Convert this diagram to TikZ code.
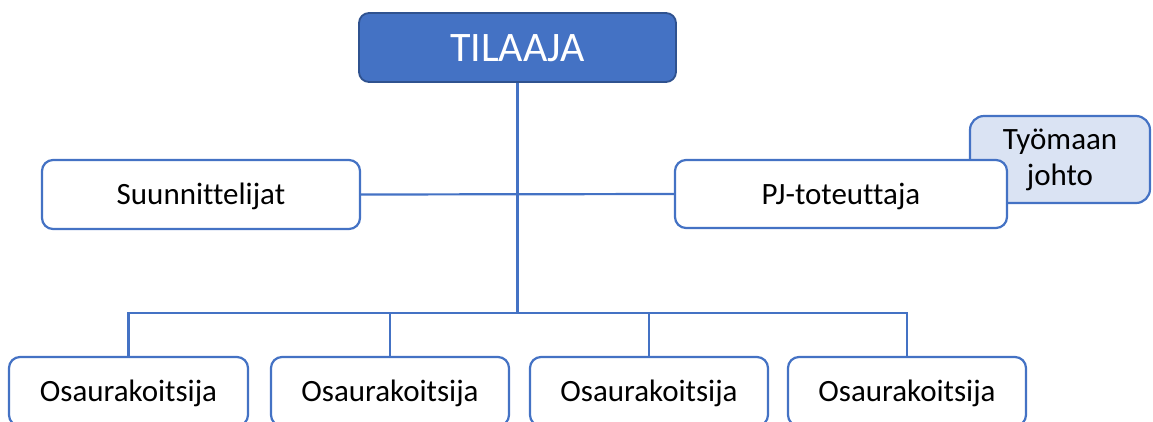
\documentclass[tikz,border=0pt]{standalone}
\usepackage{fontspec}
\setmainfont{Carlito}[Ligatures={NoCommon}]
\definecolor{accent}{HTML}{4472C4}
\definecolor{accentdark}{HTML}{2F528F}
\definecolor{paleblue}{HTML}{DAE3F3}
\begin{document}
\begin{tikzpicture}[x=1bp,y=-1bp,
  conn/.style={draw=accent, line width=2.2bp},
  orgbox/.style={draw=accent, line width=2.2bp, rounded corners=11bp, fill=white,
    inner sep=0pt, text=black, font=\fontsize{31bp}{37bp}\selectfont,
    text height=20bp, text depth=0pt},
  topbox/.style={draw=accentdark, line width=1.8bp, rounded corners=10bp, fill=accent,
    inner sep=0pt, text=white, font=\fontsize{42bp}{50bp}\selectfont,
    text height=27bp, text depth=0pt},
  sidebox/.style={draw=accent, line width=2.2bp, rounded corners=14bp, fill=paleblue,
    inner sep=0pt, text=black, align=center, font=\fontsize{31bp}{36bp}\selectfont}
]
\useasboundingbox (0,0) rectangle (1153,421);
\clip (0,0) rectangle (1153,421);

% connectors
\coordinate (bus) at (517.5,313);

% top level
\node[topbox, minimum width=317bp, minimum height=69bp] (til) at (517.5,47.5) {TILAAJA};

% middle level
\node[orgbox, minimum width=318bp, minimum height=69bp] (suun) at (201,194.5) {Suunnittelijat};
\node[sidebox, minimum width=180bp, minimum height=87bp] (tyo) at (1060,159.5) {Työmaan\\johto};
\node[orgbox, minimum width=332bp, minimum height=68bp] (pj) at (841,194) {PJ-toteuttaja};

% bottom level
\node[orgbox, minimum width=239bp, minimum height=69bp] (o1) at (128.5,391.5) {Osaurakoitsija};
\node[orgbox, minimum width=238bp, minimum height=69bp] (o2) at (390,391.5) {Osaurakoitsija};
\node[orgbox, minimum width=238bp, minimum height=69bp] (o3) at (649,391.5) {Osaurakoitsija};
\node[orgbox, minimum width=238bp, minimum height=69bp] (o4) at (907,391.5) {Osaurakoitsija};

\draw[conn] (til.south) -- (bus);
\draw[conn] (suun.east) -- (pj.west);
\draw[conn] (o1.north) |- (bus) -| (o4.north);
\draw[conn] (o2.north) -- (o2.north |- bus);
\draw[conn] (o3.north) -- (o3.north |- bus);
\end{tikzpicture}
\end{document}
